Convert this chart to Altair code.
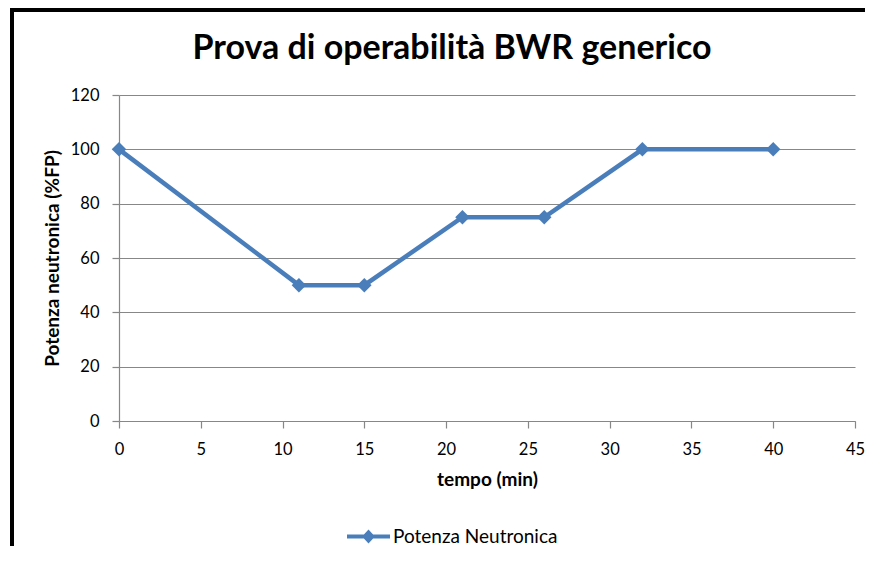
import altair as alt
import pandas as pd

tempo = [0, 11, 15, 21, 26, 32, 40]
potenza = [100, 50, 50, 75, 75, 100, 100]
serie = "Potenza Neutronica"

df = pd.DataFrame({"tempo": tempo, "potenza": potenza, "serie": [serie] * len(tempo)})

BLUE = "#4a7ebb"
GRAY = "#878787"
FONT = "Lato"

x = alt.X("tempo:Q", scale=alt.Scale(domain=[0, 45], nice=False),
          axis=alt.Axis(title="tempo (min)", values=list(range(0, 50, 5)), grid=False,
                        labelFlush=False, labelPadding=13, titlePadding=13))
y = alt.Y("potenza:Q", scale=alt.Scale(domain=[0, 120], nice=False),
          axis=alt.Axis(title="Potenza neutronica (%FP)", values=list(range(0, 140, 20)),
                        grid=True, labelFlush=False, labelPadding=13, titlePadding=8))

line = alt.Chart(df).mark_line(color=BLUE, strokeWidth=4.5).encode(x=x, y=y)

legend_path = "M-1,-0.09L1,-0.09L1,0.09L-1,0.09Z M0,-0.32L0.3,0L0,0.32L-0.3,0Z"
points = alt.Chart(df).mark_point(shape="diamond", filled=True, size=210, opacity=1).encode(
    x=x, y=y,
    color=alt.Color("serie:N", scale=alt.Scale(range=[BLUE]),
                    legend=alt.Legend(title=None, orient="none", legendX=228, legendY=420,
                                      symbolType=legend_path, symbolSize=1849,
                                      symbolStrokeWidth=0, labelFontSize=19, labelLimit=400,
                                      labelFont=FONT, labelColor="#000000", labelOffset=3)),
)

left_border = alt.Chart(df).mark_rule(color="black", strokeWidth=4).encode(
    x=alt.value(-107), y=alt.value(-87), y2=alt.value(480))
top_border = alt.Chart(df).mark_rule(color="black", strokeWidth=4).encode(
    y=alt.value(-85), x=alt.value(-109), x2=alt.value(800))

chart = alt.layer(line, points, left_border, top_border).properties(
    width=736, height=326,
    autosize=alt.AutoSizeParams(type="none"),
    padding={"left": 111, "top": 87, "right": 10, "bottom": 125},
    title=alt.TitleParams("Prova di operabilità BWR generico", font=FONT, fontSize=34,
                          fontWeight="bold", color="#000000", anchor="middle", frame="group",
                          baseline="alphabetic", dx=-35, offset=-87),
).configure_view(stroke=None).configure_axis(
    domainColor=GRAY, tickColor=GRAY, gridColor=GRAY, tickSize=7,
    labelFont=FONT, labelFontSize=16.5, labelColor="#000000",
    titleFont=FONT, titleFontSize=19, titleFontWeight="bold", titleColor="#000000",
    domainWidth=1.2, gridWidth=1.2, tickWidth=1.2,
)

chart.save("out.html", embed_options={"renderer": "svg", "actions": False})
